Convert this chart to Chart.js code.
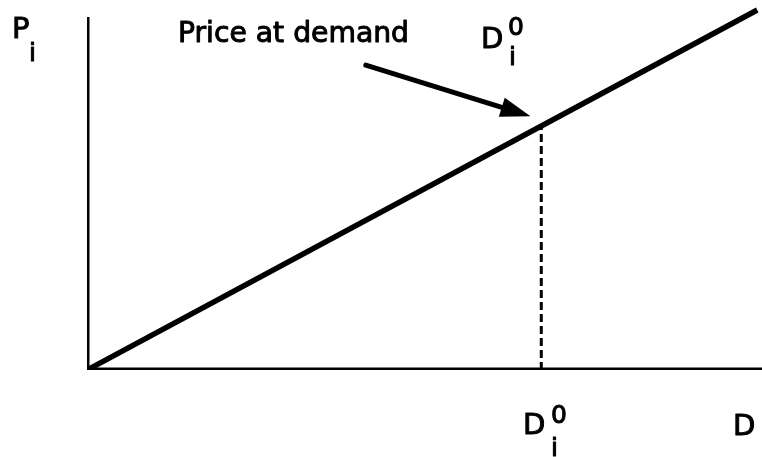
<!DOCTYPE html>
<html><head><meta charset="utf-8">
<script src="https://cdn.jsdelivr.net/npm/chart.js@4.4.0/dist/chart.umd.min.js"></script>
<style>html,body{margin:0;padding:0;background:#fff}#wrap{width:762px;height:457px}</style>
</head><body><div id="wrap"><canvas id="c" width="762" height="457"></canvas></div>
<script>
// Data (abstract units)
const demandX = [0, 99.3];
const priceY = [0, 97.3];
const d0 = 67.3;            // demand D_i^0
const yAxisTop = 95.4;
const xAxisEnd = 100;
const arrowFrom = {x: 41.3, y: 82.4};
const arrowTo = {x: 65.7, y: 68.6};
const slope = priceY[1] / demandX[1];

const demandLine = demandX.map((x, i) => ({x, y: priceY[i]}));
const dropLine = [{x: d0, y: 0}, {x: d0, y: d0 * slope}];

const labelsPlugin = {
  id: 'labels',
  afterDatasetsDraw(chart) {
    const {ctx, scales: {x, y}} = chart;
    ctx.save();
    // arrow
    const x1 = x.getPixelForValue(arrowFrom.x), y1 = y.getPixelForValue(arrowFrom.y);
    const x2 = x.getPixelForValue(arrowTo.x), y2 = y.getPixelForValue(arrowTo.y);
    const ang = Math.atan2(y2 - y1, x2 - x1);
    const hl = 30, hw = 10;
    ctx.strokeStyle = '#000'; ctx.fillStyle = '#000'; ctx.lineWidth = 5; ctx.lineCap = 'round';
    ctx.beginPath(); ctx.moveTo(x1, y1);
    ctx.lineTo(x2 - hl * Math.cos(ang), y2 - hl * Math.sin(ang)); ctx.stroke();
    ctx.beginPath();
    ctx.moveTo(x2, y2);
    ctx.lineTo(x2 - hl * Math.cos(ang) + hw * Math.sin(ang), y2 - hl * Math.sin(ang) - hw * Math.cos(ang));
    ctx.lineTo(x2 - hl * Math.cos(ang) - hw * Math.sin(ang), y2 - hl * Math.sin(ang) + hw * Math.cos(ang));
    ctx.closePath(); ctx.fill();
    // texts
    ctx.textBaseline = 'alphabetic'; ctx.textAlign = 'left';
    ctx.lineWidth = 1; ctx.lineCap = 'butt'; ctx.lineJoin = 'round';
    const put = (t, px, py, mw) => {
      if (mw) { ctx.fillText(t, px, py, mw); ctx.strokeText(t, px, py, mw); }
      else { ctx.fillText(t, px, py); ctx.strokeText(t, px, py); }
    };
    const big = '29px "DejaVu Sans"', small = '25px "DejaVu Sans"';
    ctx.font = big;
    put('P', 12, 38);
    put('Price at demand', 178, 42, 231);
    put('D', 481, 48);
    put('D', 523, 434);
    put('D', 733, 435);
    ctx.font = small;
    put('i', 29, 61);
    put('0', 508, 35);
    put('i', 509, 65);
    put('0', 551, 423);
    put('i', 551, 456);
    ctx.restore();
  }
};

new Chart(document.getElementById('c'), {
  type: 'scatter',
  data: {
    datasets: [
      {data: demandLine, showLine: true, borderColor: '#000', borderWidth: 5.5, pointRadius: 0},
      {data: dropLine, showLine: true, borderColor: '#000', borderWidth: 3, borderDash: [8, 4], pointRadius: 0},
      {data: [{x: 0, y: yAxisTop}, {x: 0, y: 0}, {x: xAxisEnd, y: 0}], showLine: true, borderColor: '#000', borderWidth: 5, pointRadius: 0}
    ]
  },
  options: {
    responsive: false, animation: false,
    layout: {padding: {left: 87, right: 0, top: 0, bottom: 87}},
    plugins: {legend: {display: false}, tooltip: {enabled: false}},
    scales: {
      x: {type: 'linear', min: 0, max: 100, display: false},
      y: {type: 'linear', min: 0, max: 100, display: false}
    }
  },
  plugins: [labelsPlugin]
});
</script></body></html>
